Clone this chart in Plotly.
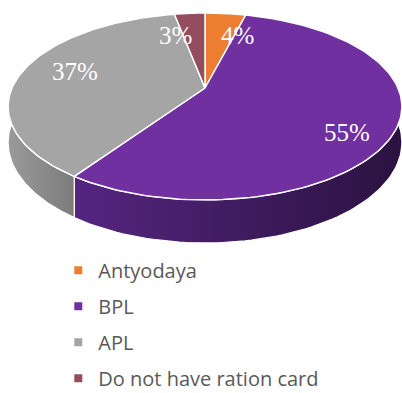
import numpy as np
import plotly.graph_objects as go

# ---- data ----
categories = ["Antyodaya", "BPL", "APL", "Do not have ration card"]
values = [4, 55, 37, 3]
labels = ["4%", "55%", "37%", "3%"]

# ---- style ----
top_colors = ["#ED7D31", "#7030A0", "#A5A5A5", "#934D5F"]
side_grad = [("#C8621F", "#A04E18"), ("#552580", "#2B1240"),
             ("#9A9A9A", "#7C7C7C"), ("#74394A", "#5E2E3C")]

W, H_FIG = 402, 393
CX, CY = 205.0, 88.0   # apex of the pie (pixels)
A, B = 193.0, 89.8     # projected half axes
K = 0.198              # perspective factor
DEPTH = 34.5           # side thickness


def proj(phi_deg, r=1.0, h=0.0):
    phi = np.radians(phi_deg)
    X = r * np.sin(phi)
    D = r * np.cos(phi)
    s = 1.0 / (1.0 + K * D)
    return CX + A * X * s, CY - B * D * s + DEPTH * s * h


total = float(sum(values))
fr = np.array(values) / total
ends = np.cumsum(fr) * 360.0
starts = ends - fr * 360.0

fig = go.Figure()

# sides (front half only)
for i in range(len(values)):
    a, b = max(starts[i], 90.0), min(ends[i], 270.0)
    if b <= a:
        continue
    ph = np.linspace(a, b, 80)
    xt, yt = proj(ph)
    xb, yb = proj(ph[::-1], h=1.0)
    xs = np.concatenate([xt, xb, xt[:1]])
    ys = np.concatenate([yt, yb, yt[:1]])
    fig.add_trace(go.Scatter(
        x=xs, y=ys, mode="lines", fill="toself",
        fillgradient=dict(type="horizontal",
                          colorscale=[[0, side_grad[i][0]], [1, side_grad[i][1]]]),
        line=dict(color="white", width=1.2),
        hoverinfo="skip", showlegend=False))

# top faces
for i in range(len(values)):
    ph = np.linspace(starts[i], ends[i], 120)
    xa, ya = proj(ph)
    xs = np.concatenate([[CX], xa, [CX]])
    ys = np.concatenate([[CY], ya, [CY]])
    fig.add_trace(go.Scatter(
        x=xs, y=ys, mode="lines", fill="toself", fillcolor=top_colors[i],
        line=dict(color="white", width=1.5),
        hoverinfo="skip", showlegend=False))

# percentage labels
label_shift = [(18, 0), (18, 18), (-7, -5), (-19, 0)]
for i in range(len(values)):
    mid = (starts[i] + ends[i]) / 2.0
    lx, ly = proj(mid, r=0.67)
    fig.add_annotation(x=lx, y=ly, text=labels[i], showarrow=False,
                       xshift=label_shift[i][0], yshift=-label_shift[i][1],
                       font=dict(family="Liberation Serif", size=25, color="white"))

# legend entries
for i, c in enumerate(categories):
    fig.add_trace(go.Scatter(
        x=[None], y=[None], mode="markers", name=c, legendgroup=c,
        marker=dict(symbol="square", size=8, color=top_colors[i]),
        hoverinfo="skip", showlegend=True))

fig.update_layout(
    width=W, height=H_FIG,
    margin=dict(l=0, r=0, t=0, b=0, autoexpand=False),
    paper_bgcolor="white", plot_bgcolor="white",
    xaxis=dict(range=[0, W], visible=False, fixedrange=True),
    yaxis=dict(range=[H_FIG, 0], visible=False, fixedrange=True),
    showlegend=True,
    legend=dict(x=0.145, y=-0.012, xanchor="left", yanchor="bottom",
                orientation="v", tracegroupgap=7,
                font=dict(family="Open Sans", size=20, color="#595959"),
                bgcolor="rgba(0,0,0,0)"),
)

fig.write_html("out.html")
